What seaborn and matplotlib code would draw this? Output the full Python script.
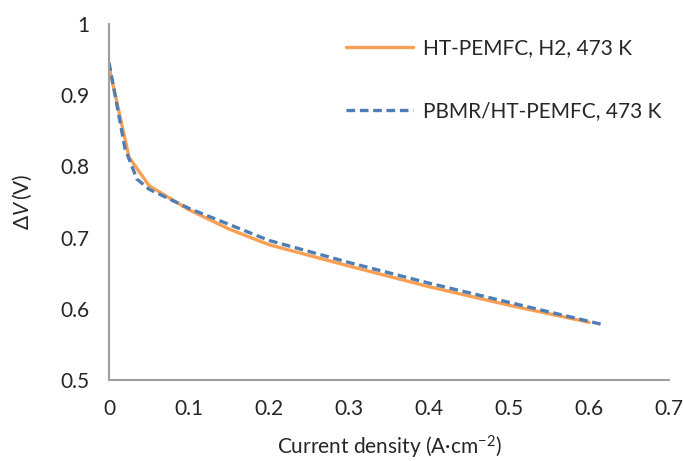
import matplotlib
matplotlib.use("Agg")
import matplotlib.pyplot as plt
import seaborn as sns
import pandas as pd

# Polarisation curves: cell voltage vs current density
h2_current = [0, 0.025, 0.05, 0.1, 0.15, 0.2, 0.3, 0.4, 0.5, 0.6]
h2_voltage = [0.940, 0.813, 0.773, 0.739, 0.712, 0.690, 0.660, 0.631, 0.605, 0.581]

pbmr_current = [0, 0.02, 0.035, 0.05, 0.1, 0.2, 0.3, 0.4, 0.5, 0.62]
pbmr_voltage = [0.946, 0.825, 0.782, 0.768, 0.741, 0.696, 0.665, 0.636, 0.609, 0.577]

series_names = ["HT-PEMFC, H2, 473 K", "PBMR/HT-PEMFC, 473 K"]
x_ticks = [0, 0.1, 0.2, 0.3, 0.4, 0.5, 0.6, 0.7]
y_ticks = [0.5, 0.6, 0.7, 0.8, 0.9, 1.0]
y_tick_labels = ["0.5", "0.6", "0.7", "0.8", "0.9", "1"]

df = pd.concat([
    pd.DataFrame({"j": h2_current, "V": h2_voltage, "series": series_names[0]}),
    pd.DataFrame({"j": pbmr_current, "V": pbmr_voltage, "series": series_names[1]}),
])

sns.set_style("white")
plt.rcParams["font.family"] = ["Lato", "DejaVu Sans"]
plt.rcParams["mathtext.fontset"] = "custom"
plt.rcParams["mathtext.rm"] = "Lato"
plt.rcParams["mathtext.it"] = "Lato:italic"
text_color = "#262626"
axis_color = "#a0a0a0"

fig = plt.figure(figsize=(6.83, 4.61), dpi=100)
ax = fig.add_axes([0.1596, 0.1757, 0.82, 0.7723])

palette = {series_names[0]: "#F9A054", series_names[1]: "#4F7DB5"}
dashes = {series_names[0]: "", series_names[1]: (2.6, 1.4)}
sns.lineplot(data=df, x="j", y="V", hue="series", style="series",
             palette=palette, dashes=dashes, linewidth=2.4, ax=ax,
             sort=False, estimator=None)

ax.set_xlim(0, 0.7)
ax.set_ylim(0.5, 1.0)
ax.set_xticks(x_ticks)
ax.set_xticklabels([f"{t:g}" for t in x_ticks])
ax.set_yticks(y_ticks)
ax.set_yticklabels(y_tick_labels)

for side in ("top", "right"):
    ax.spines[side].set_visible(False)
for side in ("left", "bottom"):
    ax.spines[side].set_color(axis_color)
    ax.spines[side].set_linewidth(1.5)
ax.tick_params(axis="both", direction="out", length=5, width=1.5,
               color=axis_color, labelsize=15, labelcolor=text_color, pad=9)

ax.set_xlabel("Current density (A·cm$^{-2}$)", fontsize=15, color=text_color, labelpad=10)
ax.set_ylabel(r"$\Delta V\,$(V)", fontsize=15, color=text_color, labelpad=19)

handles, labels = ax.get_legend_handles_labels()
leg = ax.legend(handles, labels, loc="upper left", bbox_to_anchor=(0.39, 1.012),
                frameon=False, fontsize=15, handlelength=3.2, handletextpad=0.5,
                labelspacing=2.05, labelcolor=text_color)

fig.savefig("out.png", dpi=100)
